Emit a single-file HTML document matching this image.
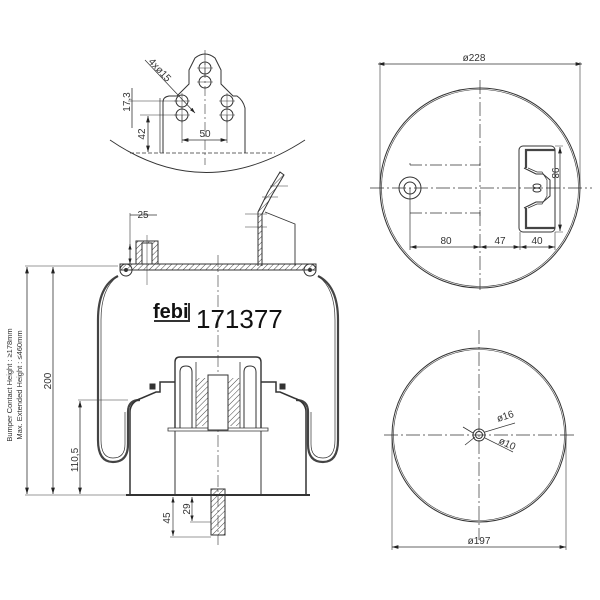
<!DOCTYPE html>
<html><head><meta charset="utf-8"><style>
html,body{margin:0;padding:0;background:#fff}
svg{display:block}
text{font-family:"Liberation Sans",sans-serif;fill:#333}
</style></head><body>
<svg width="600" height="600" viewBox="0 0 600 600" xmlns="http://www.w3.org/2000/svg">
<defs>
<marker id="a" viewBox="0 0 10 6" refX="10" refY="3" markerWidth="8" markerHeight="5" orient="auto-start-reverse"><path d="M0,0L10,3L0,6z" fill="#222"/></marker>
<pattern id="h" width="4" height="4" patternUnits="userSpaceOnUse" patternTransform="rotate(45)"><line x1="0" y1="0" x2="0" y2="4" stroke="#444" stroke-width="1"/></pattern>
</defs>
<g fill="none" stroke="#333" stroke-width="1">
<circle cx="480" cy="188" r="100"/>
<circle cx="480" cy="188" r="98.5" stroke-width="0.6"/>
<line x1="378" y1="64" x2="582" y2="64" marker-start="url(#a)" marker-end="url(#a)" stroke-width="0.8"/>
<line x1="380" y1="62" x2="380" y2="188" stroke-width="0.6"/>
<line x1="580" y1="62" x2="580" y2="188" stroke-width="0.6"/>
<line x1="370" y1="188" x2="592" y2="188" stroke-dasharray="14 3 2 3" stroke-width="0.7"/>
<line x1="480" y1="80" x2="480" y2="290" stroke-dasharray="14 3 2 3" stroke-width="0.7"/>
<circle cx="410" cy="188" r="11"/><circle cx="410" cy="188" r="6"/>
<path d="M410 165H480M410 213H480" stroke-dasharray="12 3 2 3" stroke-width="0.7"/>
<path d="M410 165v-2M480 160v6M410 213v3M480 210v6M410 188v62" stroke-width="0.7"/>
<rect x="519" y="146" width="36" height="86" rx="4" stroke-width="1"/>
<path d="M555 150H526V168M526 208V228H555" stroke-width="2.2" stroke="#444"/>
<path d="M524 168L536 174H543L550 180V196L543 202H536L524 208" stroke-width="1"/>
<path d="M528 168L537 172H542L547 180V196L542 204H537L528 208" stroke-width="0.7"/>
<ellipse cx="537" cy="186" rx="4" ry="2"/><ellipse cx="537" cy="190" rx="4" ry="2"/>
<line x1="560" y1="147" x2="560" y2="231" marker-start="url(#a)" marker-end="url(#a)" stroke-width="0.8"/>
<path d="M555 146h8M555 232h8" stroke-width="0.6"/>
<path d="M520 232v18M555 232v18" stroke-width="0.6"/>
<line x1="410" y1="247" x2="480" y2="247" marker-start="url(#a)" marker-end="url(#a)" stroke-width="0.8"/>
<line x1="480" y1="247" x2="520" y2="247" marker-start="url(#a)" marker-end="url(#a)" stroke-width="0.8"/>
<line x1="520" y1="247" x2="555" y2="247" marker-start="url(#a)" marker-end="url(#a)" stroke-width="0.8"/>

<circle cx="479" cy="435" r="87"/>
<circle cx="479" cy="435" r="85.5" stroke-width="0.6"/>
<line x1="384" y1="435" x2="575" y2="435" stroke-dasharray="14 3 2 3" stroke-width="0.7"/>
<line x1="479" y1="330" x2="479" y2="540" stroke-dasharray="14 3 2 3" stroke-width="0.7"/>
<circle cx="479" cy="435" r="6"/><circle cx="479" cy="435" r="3.5"/>
<path d="M463 427l10 6M465 445l10-8" stroke-width="0.8"/>
<path d="M485 432l30-9M485 438l28 14" stroke-width="0.7"/>
<line x1="392" y1="547" x2="566" y2="547" marker-start="url(#a)" marker-end="url(#a)" stroke-width="0.8"/>
<line x1="392" y1="435" x2="392" y2="550" stroke-width="0.6"/>
<line x1="566" y1="435" x2="566" y2="550" stroke-width="0.6"/>

<path d="M110 140Q205 205 305 140" stroke-width="0.9"/>
<path d="M130 153H275" stroke-dasharray="4 2" stroke-width="0.8"/>
<path d="M163 153V102q0-5 6-6h8l12-12v-14l6-12q10-8 20 0l6 12v14l12 12h4q6 4 8 12V153" stroke-width="1"/>
<path d="M160 153V98" stroke-width="0.7"/>
<circle cx="205" cy="68" r="6"/><circle cx="205" cy="82" r="6"/>
<circle cx="182" cy="101" r="6"/><circle cx="182" cy="115" r="6"/>
<circle cx="227" cy="101" r="6"/><circle cx="227" cy="115" r="6"/>
<line x1="205" y1="50" x2="205" y2="165" stroke-dasharray="10 3 2 3" stroke-width="0.6"/>
<path d="M174 101h16M174 115h16M219 101h16M219 115h16M182 93v16M227 93v16M182 107v16M227 107v16M205 60v16M197 68h16M197 82h16" stroke-width="0.5"/>
<line x1="145" y1="60" x2="195" y2="113" stroke-width="0.7" marker-end="url(#a)"/>
<line x1="182" y1="140" x2="227" y2="140" marker-start="url(#a)" marker-end="url(#a)" stroke-width="0.8"/>
<path d="M182 115v28M227 115v28" stroke-width="0.6"/>
<line x1="148" y1="116" x2="148" y2="152" marker-start="url(#a)" marker-end="url(#a)" stroke-width="0.8"/>
<line x1="132" y1="88" x2="132" y2="128" stroke-width="0.8"/>
<path d="M128 101h50M140 115h38" stroke-width="0.6"/>

<path d="M25 266H118M25 495H130M78 400H128" stroke-width="0.6"/>
<line x1="27" y1="267" x2="27" y2="494" marker-start="url(#a)" marker-end="url(#a)" stroke-width="0.8"/>
<line x1="53" y1="267" x2="53" y2="494" marker-start="url(#a)" marker-end="url(#a)" stroke-width="0.8"/>
<line x1="80" y1="401" x2="80" y2="494" marker-start="url(#a)" marker-end="url(#a)" stroke-width="0.8"/>
<line x1="130" y1="215" x2="157" y2="215" stroke-width="0.7"/>
<path d="M130 213V266" stroke-width="0.6"/>
<line x1="130" y1="244" x2="130" y2="264" marker-start="url(#a)" marker-end="url(#a)" stroke-width="0.7"/>
<rect x="120" y="264" width="196" height="6" fill="url(#h)" stroke-width="1"/>
<circle cx="126" cy="270" r="6"/><circle cx="310" cy="270" r="6"/>
<circle cx="126" cy="270" r="1.5" fill="#333"/><circle cx="310" cy="270" r="1.5" fill="#333"/>
<rect x="136" y="241" width="22" height="23" fill="url(#h)"/>
<rect x="142" y="243" width="10" height="21" fill="#fff"/>
<line x1="147" y1="235" x2="147" y2="285" stroke-width="0.5"/>
<path d="M258 266V212l10-20 12-20 4 3-12 20-10 19V266" fill="url(#h)"/>
<path d="M265 212l30 12V266" stroke-width="0.9"/>
<path d="M245 214h22M245 227h22M270 186h18M262 197h16" stroke-width="0.5"/>
<path d="M118 276Q98 286 98 320V440q0 22 15 22q15 0 15-18V412q0-12 12-12" stroke-width="2.2" stroke="#444"/>
<path d="M118 276Q101 288 101 320V440q0 18 12 18q12 0 12-14V412" stroke-width="0.7"/>
<path d="M318 276Q338 286 338 320V440q0 22-15 22q-15 0-15-18V412q0-12-12-12" stroke-width="2.2" stroke="#444"/>
<path d="M318 276Q335 288 335 320V440q0 18-12 18q-12 0-12-14V412" stroke-width="0.7"/>
<line x1="218" y1="255" x2="218" y2="545" stroke-dasharray="12 3 2 3" stroke-width="0.6"/>
<path d="M130 495V412q0-10 12-14l14-6h4v-10h15" stroke-width="1.5"/>
<path d="M306 495V412q0-10-12-14l-14-6h-4v-10h-15" stroke-width="1.5"/>
<path d="M126 495H310" stroke-width="2"/>
<rect x="150" y="384" width="5" height="5" fill="#333"/><rect x="280" y="384" width="5" height="5" fill="#333"/>
<path d="M175 428V362q0-5 5-5h76q5 0 5 5v66" stroke-width="1.4"/>
<path d="M168 428H268v3H168z" stroke-width="0.8"/>
<path d="M175 431V495M261 431V495" stroke-width="1"/>
<path d="M180 428V372q0-6 6-6t6 6v56M244 428V372q0-6 6-6t6 6v56" stroke-width="1"/>
<path d="M196 362v66M240 362v66" stroke-width="0.8"/>
<rect x="196" y="378" width="12" height="48" fill="url(#h)" stroke="none"/>
<rect x="228" y="378" width="12" height="48" fill="url(#h)" stroke="none"/>
<rect x="208" y="375" width="20" height="55" fill="#fff"/>
<rect x="211" y="489" width="14" height="46" fill="url(#h)"/>
<line x1="173" y1="497" x2="173" y2="536" marker-start="url(#a)" marker-end="url(#a)" stroke-width="0.7"/>
<line x1="192" y1="497" x2="192" y2="521" marker-start="url(#a)" marker-end="url(#a)" stroke-width="0.7"/>
<path d="M170 537H211M190 522H211" stroke-width="0.6"/>
<path d="M154 321H189V303" stroke-width="2"/>
</g>
<text x="474" y="61" font-size="10" text-anchor="middle">ø228</text>
<text x="446" y="244" font-size="10" text-anchor="middle">80</text>
<text x="500" y="244" font-size="10" text-anchor="middle">47</text>
<text x="537" y="244" font-size="10" text-anchor="middle">40</text>
<text x="0" y="0" font-size="10" text-anchor="middle" transform="translate(552 173) rotate(90)">98</text>
<text x="479" y="544" font-size="10" text-anchor="middle">ø197</text>
<text x="0" y="0" font-size="10" transform="translate(498 422) rotate(-18)">ø16</text>
<text x="0" y="0" font-size="10" transform="translate(498 443) rotate(25)">ø10</text>
<text x="205" y="137" font-size="10" text-anchor="middle">50</text>
<text x="0" y="0" font-size="10" text-anchor="middle" transform="translate(145 134) rotate(-90)">42</text>
<text x="0" y="0" font-size="10" text-anchor="middle" transform="translate(130 102) rotate(-90)">17,3</text>
<text x="0" y="0" font-size="10" transform="translate(148 62) rotate(47)">4xø15</text>
<text x="143" y="218" font-size="10" text-anchor="middle">25</text>
<text x="0" y="0" font-size="10" text-anchor="middle" transform="translate(51 381) rotate(-90)">200</text>
<text x="0" y="0" font-size="10" text-anchor="middle" transform="translate(78 460) rotate(-90)">110,5</text>
<text x="0" y="0" font-size="10" text-anchor="middle" transform="translate(170 518) rotate(-90)">45</text>
<text x="0" y="0" font-size="10" text-anchor="middle" transform="translate(190 509) rotate(-90)">29</text>
<text x="0" y="0" font-size="7.5" text-anchor="middle" transform="translate(12 385) rotate(-90)">Bumper Contact Height : ≥178mm</text>
<text x="0" y="0" font-size="7.5" text-anchor="middle" transform="translate(22 385) rotate(-90)">Max. Extended Height : ≤460mm</text>
<text x="153" y="318" font-size="20" font-weight="bold" style="fill:#111">febi</text>
<text x="196" y="328" font-size="26" style="fill:#111">171377</text>
</svg>
</body></html>
